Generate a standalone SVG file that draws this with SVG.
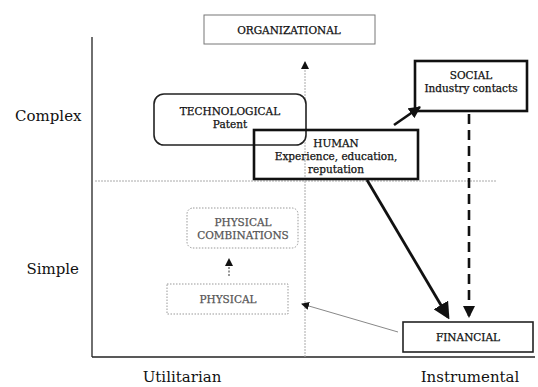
<svg xmlns="http://www.w3.org/2000/svg" width="538" height="387" viewBox="0 0 538 387">
<style>
.ax{font-family:"DejaVu Serif","Liberation Serif",serif;font-size:15px;fill:#111}
.t{font-family:"DejaVu Serif","Liberation Serif",serif;font-size:10.5px;fill:#111;stroke:#111;stroke-width:0.25;text-anchor:middle}
.g{fill:#555;stroke:#555}
.thick{fill:none;stroke:#111;stroke-width:2.6}
.med{fill:#fff;stroke:#222;stroke-width:1.6}
.light{fill:#fff;stroke:#777;stroke-width:1}
.dot{fill:#fff;stroke:#999;stroke-width:1;stroke-dasharray:1.5 1.5}
</style>
<defs>
<marker id="big" markerWidth="6" markerHeight="6" refX="5" refY="3" orient="auto" markerUnits="strokeWidth"><path d="M0,0 L6,3 L0,6 Z" fill="#111"/></marker>
<marker id="mid" markerWidth="12" markerHeight="12" refX="11" refY="6" orient="auto" markerUnits="userSpaceOnUse"><path d="M0,0 L12,6 L0,12 Z" fill="#111"/></marker>
<marker id="sm" markerWidth="8" markerHeight="8" refX="7" refY="4" orient="auto" markerUnits="userSpaceOnUse"><path d="M0,0 L8,4 L0,8 Z" fill="#111"/></marker>
</defs>
<g id="axes">
<line x1="92" y1="37" x2="92" y2="357" stroke="#222" stroke-width="1.3"/>
<line x1="92" y1="357" x2="535" y2="357" stroke="#222" stroke-width="1.3"/>
<line x1="95" y1="181" x2="497" y2="181" stroke="#aaa" stroke-width="1" stroke-dasharray="2 1"/>
<text class="ax" x="15" y="121">Complex</text>
<text class="ax" x="79" y="274" text-anchor="end">Simple</text>
<text class="ax" x="182" y="382" text-anchor="middle">Utilitarian</text>
<text class="ax" x="470" y="382" text-anchor="middle">Instrumental</text>
</g>
<g id="connectors">
<line x1="305" y1="357" x2="305" y2="62" stroke="#aaa" stroke-width="1" stroke-dasharray="2 1" marker-end="url(#sm)"/>
<line x1="229" y1="276" x2="229" y2="259" stroke="#333" stroke-width="1" stroke-dasharray="2 1.5" marker-end="url(#sm)"/>
<line x1="398" y1="332" x2="302" y2="304" stroke="#888" stroke-width="1" marker-end="url(#sm)"/>
<line x1="394" y1="125" x2="420" y2="107" stroke="#111" stroke-width="2.6" marker-end="url(#mid)"/>
<line x1="469" y1="114" x2="469" y2="317" stroke="#111" stroke-width="2.6" stroke-dasharray="10 6" marker-end="url(#mid)"/>
<line x1="367" y1="180" x2="448" y2="317" stroke="#111" stroke-width="2.8" marker-end="url(#big)"/>
</g>
<g id="organizational">
<rect class="light" x="204" y="15" width="171" height="29"/>
<text class="t" x="289" y="34">ORGANIZATIONAL</text>
</g>
<g id="technological">
<rect class="med" x="154" y="94" width="152" height="51" rx="10"/>
<text class="t" x="230" y="115">TECHNOLOGICAL</text>
<text class="t" x="230" y="128">Patent</text>
</g>
<g id="human">
<rect class="thick" x="254" y="130" width="164" height="49"/>
<text class="t" x="336" y="147">HUMAN</text>
<text class="t" x="336" y="160">Experience, education,</text>
<text class="t" x="336" y="173">reputation</text>
</g>
<g id="social">
<rect class="thick" x="415" y="61" width="112" height="50" fill="#fff"/>
<text class="t" x="471" y="79">SOCIAL</text>
<text class="t" x="471" y="92">Industry contacts</text>
</g>
<g id="physical-combinations">
<rect class="dot" x="187" y="208" width="111" height="40" rx="6"/>
<text class="t g" x="243" y="226">PHYSICAL</text>
<text class="t g" x="243" y="239">COMBINATIONS</text>
</g>
<g id="physical">
<rect class="dot" x="167" y="284" width="121" height="30"/>
<text class="t g" x="228" y="303">PHYSICAL</text>
</g>
<g id="financial">
<rect class="med" x="403" y="322" width="130" height="30" stroke-width="1.2"/>
<text class="t" x="468" y="341">FINANCIAL</text>
</g>
</svg>
